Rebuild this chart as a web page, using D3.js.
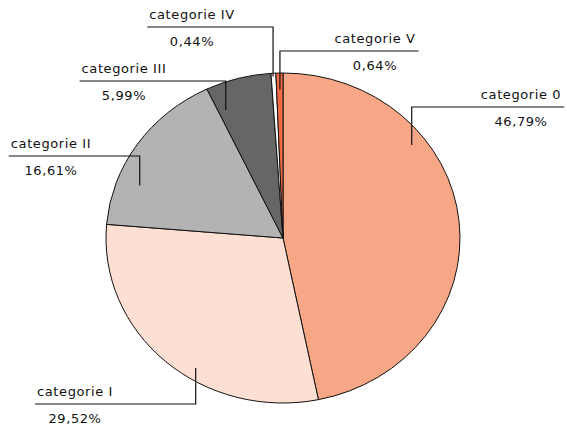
<!DOCTYPE html>
<html>
<head>
<meta charset="utf-8">
<script src="https://cdn.jsdelivr.net/npm/d3@7"></script>
<style>
  html, body { margin: 0; padding: 0; background: #fff; }
  svg { display: block; }
  .lbl { font-family: "DejaVu Sans", sans-serif; font-size: 13px; letter-spacing: 0.6px; fill: #111; }
</style>
</head>
<body>
<div id="chart"></div>
<script>
// data
var categories = ["categorie 0", "categorie I", "categorie II", "categorie III", "categorie IV", "categorie V"];
var shares = [46.79, 29.52, 16.61, 5.99, 0.44, 0.64];
var sliceColors = ["#f7a686", "#fde0d3", "#b3b3b3", "#666666", "#ffffff", "#f06a45"];

// where each callout sits: anchor inside the slice (fraction of slice angle, fraction of radius),
// y of the horizontal rule and centre x of the text block
var labelLayout = [
  {t: 0.31, r: 0.92, lineY: 107, textX: 521},
  {t: 0.41, r: 0.93, lineY: 404, textX: 75},
  {t: 0.28, r: 0.87, lineY: 156, textX: 51},
  {t: 0.13, r: 0.84, lineY: 81,  textX: 124},
  {t: 0.38, r: 0.98, lineY: 27,  textX: 192},
  {t: 0.52, r: 0.90, lineY: 51,  textX: 375}
];

var width = 567, height = 427;
var cx = 283, cy = 238, rx = 177, ry = 165;

var locale = d3.formatLocale({decimal: ",", thousands: ".", grouping: [3], currency: ["", ""]});
var pct = function(v) { return locale.format(".2f")(v) + "%"; };

var svg = d3.select("#chart").append("svg")
  .attr("width", width)
  .attr("height", height);

var pie = d3.pie().sort(null).value(function(d) { return d; });
var arcs = pie(shares);

var arc = d3.arc().innerRadius(0).outerRadius(rx);

// the reference pie is slightly squashed vertically
var g = svg.append("g")
  .attr("transform", "translate(" + cx + "," + cy + ") scale(1," + (ry / rx) + ")");

g.selectAll("path")
  .data(arcs)
  .enter().append("path")
  .attr("d", arc)
  .attr("fill", function(d, i) { return sliceColors[i]; })
  .attr("stroke", "#111")
  .attr("stroke-width", 1)
  .attr("vector-effect", "non-scaling-stroke")
  .attr("stroke-linejoin", "round");

// callouts
var labels = svg.append("g");

arcs.forEach(function(a, i) {
  var L = labelLayout[i];
  var ang = a.startAngle + L.t * (a.endAngle - a.startAngle);
  var ax = cx + L.r * rx * Math.sin(ang);
  var ay = cy - L.r * ry * Math.cos(ang);

  var title = labels.append("text")
    .attr("class", "lbl")
    .attr("x", L.textX)
    .attr("y", L.lineY - 8)
    .attr("text-anchor", "middle")
    .text(categories[i]);
  labels.append("text")
    .attr("class", "lbl")
    .attr("x", L.textX)
    .attr("y", L.lineY + 18.5)
    .attr("text-anchor", "middle")
    .text(pct(shares[i]));

  var half = title.node().getComputedTextLength() / 2;
  var farX = L.textX > ax ? L.textX + half + 3 : L.textX - half - 2;

  labels.append("path")
    .attr("d", "M" + ax + "," + ay + "V" + L.lineY + "H" + farX)
    .attr("fill", "none")
    .attr("stroke", "#111")
    .attr("stroke-width", 1.2);
});
</script>
</body>
</html>
